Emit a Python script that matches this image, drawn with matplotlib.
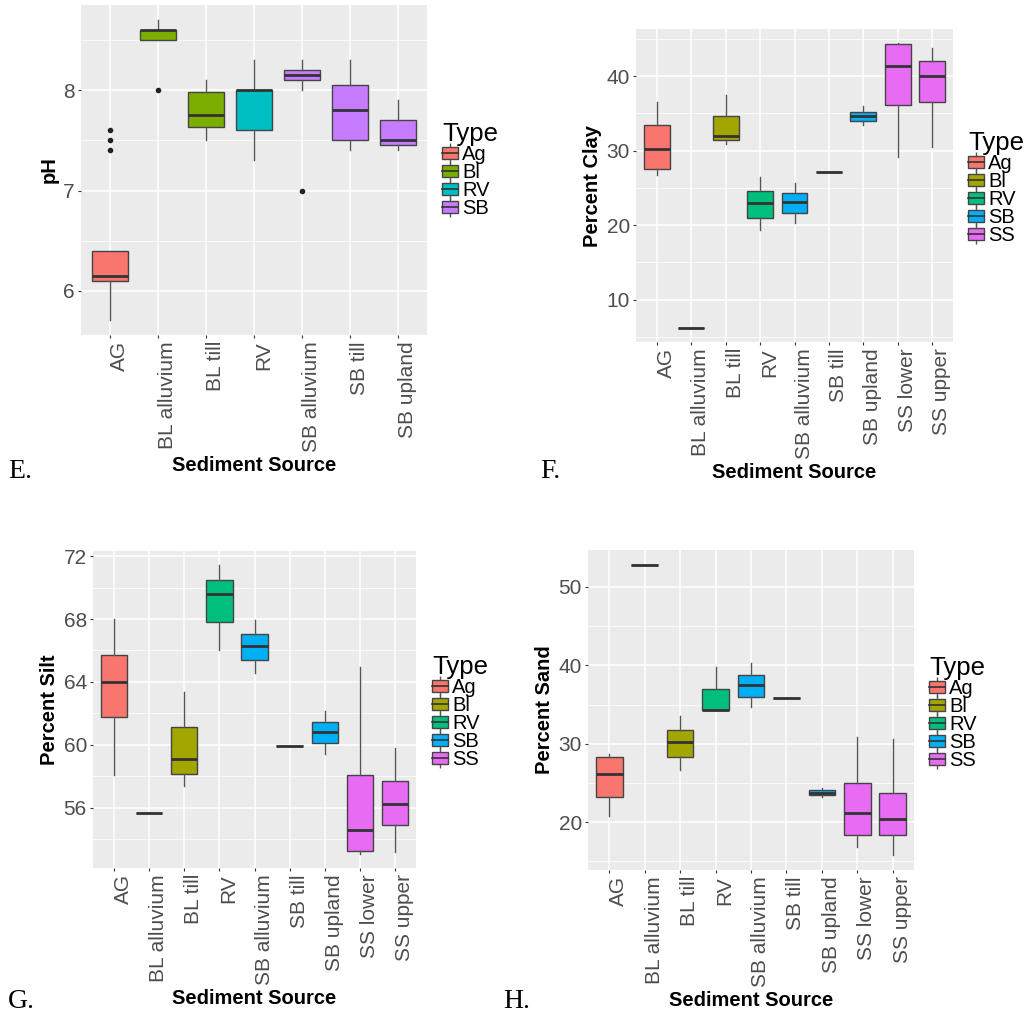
import numpy as np
import matplotlib.pyplot as plt
from matplotlib.patches import Patch
from matplotlib.lines import Line2D

plt.rcParams['font.family'] = ['Liberation Sans', 'DejaVu Sans']

W, H = 1029, 1016

# ggplot hue palettes
pal4 = {'Ag': '#F8766D', 'Bl': '#7CAE00', 'RV': '#00BFC4', 'SB': '#C77CFF'}
pal5 = {'Ag': '#F8766D', 'Bl': '#A3A500', 'RV': '#00BF7D', 'SB': '#00B0F6', 'SS': '#E76BF3'}

# E. pH
ph_src = ['AG', 'BL alluvium', 'BL till', 'RV', 'SB alluvium', 'SB till', 'SB upland']
ph_type = ['Ag', 'Bl', 'Bl', 'RV', 'SB', 'SB', 'SB']
ph_lo = [5.71, 8.50, 7.50, 7.30, 8.00, 7.40, 7.40]
ph_q1 = [6.10, 8.50, 7.63, 7.60, 8.10, 7.50, 7.45]
ph_med = [6.15, 8.60, 7.75, 8.00, 8.15, 7.80, 7.50]
ph_q3 = [6.40, 8.60, 7.98, 8.00, 8.20, 8.05, 7.70]
ph_hi = [6.40, 8.70, 8.10, 8.30, 8.30, 8.30, 7.90]
ph_out = [[7.4, 7.5, 7.6], [8.0], [], [], [7.0], [], []]

# F, G, H share the sources
src9 = ['AG', 'BL alluvium', 'BL till', 'RV', 'SB alluvium', 'SB till',
        'SB upland', 'SS lower', 'SS upper']
type9 = ['Ag', 'Bl', 'Bl', 'RV', 'SB', 'SB', 'SB', 'SS', 'SS']

# F. clay
clay_lo = [26.7, 6.22, 30.9, 19.3, 20.3, 27.16, 33.4, 29.2, 30.56]
clay_q1 = [27.56, 6.22, 31.41, 20.94, 21.6, 27.16, 33.96, 36.1, 36.55]
clay_med = [30.25, 6.22, 32.0, 22.95, 23.1, 27.16, 34.72, 41.43, 40.04]
clay_q3 = [33.47, 6.22, 34.72, 24.65, 24.3, 27.16, 35.26, 44.34, 42.0]
clay_hi = [36.55, 6.22, 37.45, 26.5, 25.7, 27.16, 36.0, 44.43, 43.85]

# G. silt
silt_lo = [58.09, 55.64, 57.37, 66.06, 64.58, 59.91, 59.44, 53.08, 53.2]
silt_q1 = [61.77, 55.64, 58.17, 67.79, 65.38, 59.91, 60.14, 53.23, 54.88]
silt_med = [64.01, 55.64, 59.08, 69.59, 66.29, 59.91, 60.84, 54.6, 56.25]
silt_q3 = [65.68, 55.64, 61.15, 70.46, 67.03, 59.91, 61.47, 58.11, 57.67]
silt_hi = [68.03, 55.64, 63.33, 71.41, 67.94, 59.91, 62.15, 64.98, 59.78]

# H. sand
sand_lo = [20.85, 52.84, 26.71, 34.26, 34.68, 35.87, 23.23, 16.86, 15.76]
sand_q1 = [23.23, 52.84, 28.28, 34.26, 35.96, 35.87, 23.44, 18.43, 18.43]
sand_med = [26.11, 52.84, 30.23, 34.26, 37.53, 35.87, 23.78, 21.19, 20.43]
sand_q3 = [28.28, 52.84, 31.76, 37.02, 38.76, 35.87, 24.08, 25.01, 23.7]
sand_hi = [28.74, 52.84, 33.5, 39.78, 40.28, 35.87, 24.42, 30.82, 30.65]

fig = plt.figure(figsize=(W / 100, H / 100), dpi=100)


def panel(rect, src, types, lo, q1, med, q3, hi, out, pal, ylab,
          yticks, yminor, letter, letter_xy, leg_xy):
    x0, y0, x1, y1 = rect
    ax = fig.add_axes([x0 / W, 1 - y1 / H, (x1 - x0) / W, (y1 - y0) / H])
    ax.set_facecolor('#EBEBEB')
    for s in ax.spines.values():
        s.set_visible(False)
    n = len(src)
    stats = []
    for i in range(n):
        stats.append(dict(label=src[i], whislo=lo[i], q1=q1[i], med=med[i],
                          q3=q3[i], whishi=hi[i], fliers=out[i]))
    bp = ax.bxp(stats, positions=np.arange(1, n + 1), widths=0.75,
                patch_artist=True, showcaps=False,
                boxprops=dict(edgecolor='#444444', linewidth=1.0),
                whiskerprops=dict(color='#555555', linewidth=1.0),
                medianprops=dict(color='#333333', linewidth=2.0,
                                 solid_capstyle='butt'),
                flierprops=dict(marker='o', markersize=3.0,
                                markerfacecolor='#222222',
                                markeredgecolor='#222222'))
    for b, t in zip(bp['boxes'], types):
        b.set_facecolor(pal[t])

    allv = list(lo) + list(hi) + [v for f in out for v in f]
    lo_v, hi_v = min(allv), max(allv)
    pad = 0.05 * (hi_v - lo_v)
    ax.set_ylim(lo_v - pad, hi_v + pad)
    ax.set_xlim(0.4, n + 0.6)

    ax.set_yticks(yticks)
    ax.set_yticks(yminor, minor=True)
    ax.set_xticks(np.arange(1, n + 1))
    ax.set_xticklabels(src, rotation=90, ha='left', va='top')
    ax.set_axisbelow(True)
    ax.grid(which='major', color='white', linewidth=1.1)
    ax.grid(which='minor', axis='y', color='white', linewidth=0.55)
    ax.tick_params(which='major', length=2.4, width=0.8, color='#333333',
                   labelsize=15, labelcolor='#4D4D4D', pad=2)
    ax.tick_params(which='minor', length=0)
    ax.set_xlabel('Sediment Source', fontsize=14.5, fontweight='bold', labelpad=3)
    ax.set_ylabel(ylab, fontsize=14.5, fontweight='bold', labelpad=3)

    keys = sorted(set(types))
    handles = []
    for k in keys:
        handles.append((Line2D([0], [0], marker='|', markersize=14, color='#555555',
                               linestyle='None', markeredgewidth=1.0),
                        Patch(facecolor=pal[k], edgecolor='#444444', linewidth=1.0),
                        Line2D([0], [0], color='#333333', linewidth=1.2)))
    ax.legend(handles, keys, loc='upper left',
              bbox_to_anchor=(leg_xy[0] / W, 1 - leg_xy[1] / H),
              bbox_transform=fig.transFigure, frameon=False,
              title='Type', title_fontsize=18.5, fontsize=14.5,
              handlelength=0.8, handleheight=0.55, handletextpad=0.2,
              labelspacing=-0.05, borderpad=0, borderaxespad=0,
              alignment='left')
    fig.text(letter_xy[0] / W, 1 - letter_xy[1] / H, letter,
             family='Liberation Serif', fontsize=20, va='baseline')
    return ax


panel((81, 5, 427, 335), ph_src, ph_type, ph_lo, ph_q1, ph_med, ph_q3, ph_hi,
      ph_out, pal4, 'pH', [6, 7, 8], [6.5, 7.5, 8.5], 'E.', (8, 478), (442, 122))

empty = [[] for _ in src9]
panel((636, 29, 953, 342), src9, type9, clay_lo, clay_q1, clay_med, clay_q3,
      clay_hi, empty, pal5, 'Percent Clay', [10, 20, 30, 40],
      [5, 15, 25, 35, 45], 'F.', (540, 478), (968, 131))
panel((93, 551, 416, 868), src9, type9, silt_lo, silt_q1, silt_med, silt_q3,
      silt_hi, empty, pal5, 'Percent Silt', [56, 60, 64, 68, 72],
      [54, 58, 62, 66, 70], 'G.', (8, 1008), (432, 655))
panel((588, 550, 914, 870), src9, type9, sand_lo, sand_q1, sand_med, sand_q3,
      sand_hi, empty, pal5, 'Percent Sand', [20, 30, 40, 50],
      [15, 25, 35, 45], 'H.', (503, 1008), (929, 656))

fig.savefig('out.png', dpi=100)
